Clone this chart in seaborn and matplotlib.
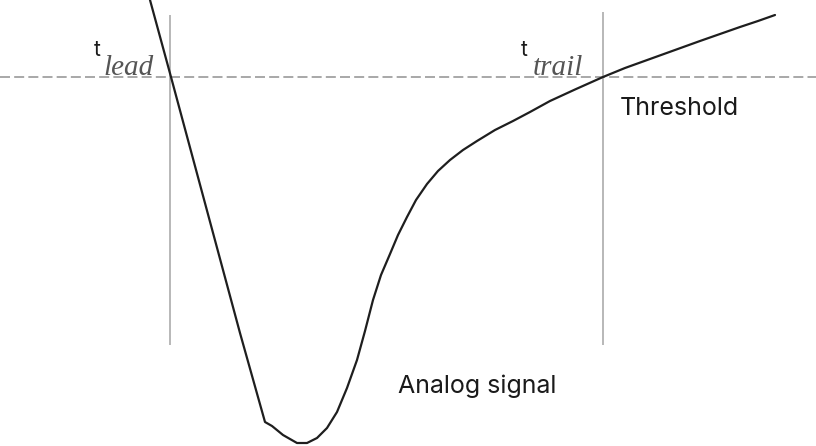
import matplotlib
matplotlib.use("Agg")
import matplotlib.pyplot as plt
import seaborn as sns
import pandas as pd

# Analog pulse sampled along the time axis (amplitude relative to threshold)
time = [150, 171, 209, 240, 265, 272, 283, 297, 307, 317, 327, 337, 347, 357,
        365, 373, 381, 390, 398, 407, 416, 427, 438, 450, 463, 477, 495, 513,
        530, 550, 575, 603, 625, 650, 675, 700, 720, 740, 758, 775]
level = [77, 0, -141, -256, -345, -349, -358, -366, -366, -361, -351, -335, -311, -283,
         -254, -223, -198, -177, -158, -140, -123, -107, -94, -83, -73, -64, -53, -44,
         -35, -24, -12.5, 0, 9, 18, 27, 36, 43, 50, 56, 62]

threshold = 0
t_lead = 170
t_trail = 603
marker_low = -268
marker_high = [62, 65]

sns.set_theme(style="white")
plt.rcParams["font.family"] = ["Inter", "DejaVu Sans"]

fig = plt.figure(figsize=(8.16, 4.46), dpi=100)
ax = fig.add_axes([0, 0, 1, 1])

df = pd.DataFrame({"time": time, "level": level})

# timing markers and threshold level
ax.vlines(t_lead, marker_low, marker_high[0], color="#ababab", lw=1.2)
ax.vlines(t_trail, marker_low, marker_high[1], color="#ababab", lw=1.2)
ax.axhline(threshold, color="#9a9a9a", lw=1.2, dashes=(6, 2.5))

sns.lineplot(data=df, x="time", y="level", sort=False, color="#1e1e1e",
             lw=1.6, ax=ax, estimator=None)

ax.set_xlim(0, 816)
ax.set_ylim(-369, 77)
ax.axis("off")

# labels
ax.text(94, 21, "t", fontsize=15, color="#1a1a1a", ha="left", va="baseline")
ax.text(103, 2, "lead", fontsize=21, color="#555555", family=["Liberation Serif"],
        style="italic", ha="left", va="baseline")
ax.text(521, 21, "t", fontsize=15, color="#1a1a1a", ha="left", va="baseline")
ax.text(533, 2, "trail", fontsize=21, color="#555555", family=["Liberation Serif"],
        style="italic", ha="left", va="baseline")
ax.text(620, -38, "Threshold", fontsize=18, color="#1a1a1a", ha="left", va="baseline")
ax.text(398, -316, "Analog signal", fontsize=18, color="#1a1a1a", ha="left", va="baseline")

fig.savefig("out.png", dpi=100)
